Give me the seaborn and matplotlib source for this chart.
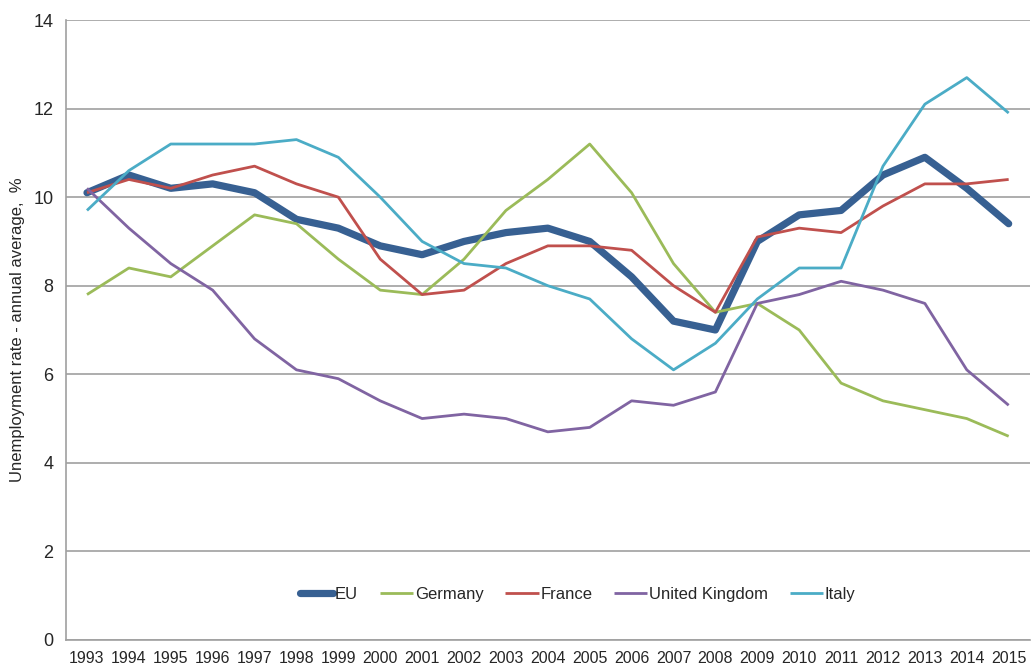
import numpy as np
import pandas as pd
import matplotlib
matplotlib.use('Agg')
import matplotlib.pyplot as plt
import seaborn as sns
from matplotlib.ticker import FixedLocator

years = [str(y) for y in range(1993, 2016)]

eu = [10.1, 10.5, 10.2, 10.3, 10.1, 9.5, 9.3, 8.9, 8.7, 9.0, 9.2, 9.3, 9.0, 8.2, 7.2, 7.0, 9.0, 9.6, 9.7, 10.5, 10.9, 10.2, 9.4]
germany = [7.8, 8.4, 8.2, 8.9, 9.6, 9.4, 8.6, 7.9, 7.8, 8.6, 9.7, 10.4, 11.2, 10.1, 8.5, 7.4, 7.6, 7.0, 5.8, 5.4, 5.2, 5.0, 4.6]
france = [10.1, 10.4, 10.2, 10.5, 10.7, 10.3, 10.0, 8.6, 7.8, 7.9, 8.5, 8.9, 8.9, 8.8, 8.0, 7.4, 9.1, 9.3, 9.2, 9.8, 10.3, 10.3, 10.4]
uk = [10.2, 9.3, 8.5, 7.9, 6.8, 6.1, 5.9, 5.4, 5.0, 5.1, 5.0, 4.7, 4.8, 5.4, 5.3, 5.6, 7.6, 7.8, 8.1, 7.9, 7.6, 6.1, 5.3]
italy = [9.7, 10.6, 11.2, 11.2, 11.2, 11.3, 10.9, 10.0, 9.0, 8.5, 8.4, 8.0, 7.7, 6.8, 6.1, 6.7, 7.7, 8.4, 8.4, 10.7, 12.1, 12.7, 11.9]

series = {'EU': eu, 'Germany': germany, 'France': france, 'United Kingdom': uk, 'Italy': italy}
colors = {'EU': '#376092', 'Germany': '#9BBB59', 'France': '#C0504D',
          'United Kingdom': '#8064A2', 'Italy': '#4BACC6'}
widths = {'EU': 5.2, 'Germany': 2.0, 'France': 2.0, 'United Kingdom': 2.0, 'Italy': 2.0}

sns.set_style('white')
plt.rcParams['font.family'] = ['Liberation Sans', 'DejaVu Sans']

fig = plt.figure(figsize=(10.35, 6.68), dpi=100)
ax = fig.add_axes([0.0638, 0.042, 0.931, 0.928])

for name, vals in series.items():
    df = pd.DataFrame({'year': years, 'value': vals})
    sns.lineplot(data=df, x='year', y='value', ax=ax, color=colors[name],
                 linewidth=widths[name], label=name, sort=False,
                 solid_capstyle='round' if name == 'EU' else 'butt')

ax.set_xlim(-0.5, len(years) - 0.5)
ax.set_ylim(0, 14)
ax.set_yticks(np.arange(0, 15, 2))
ax.yaxis.grid(True, color='#a0a0a0', linewidth=1.2)
ax.set_axisbelow(True)

ax.xaxis.set_minor_locator(FixedLocator(np.arange(-0.5, len(years), 1)))
ax.tick_params(axis='x', which='major', length=0, labelsize=11.5, pad=8)
ax.tick_params(axis='x', which='minor', length=5, color='#a0a0a0', direction='out')
ax.tick_params(axis='y', length=5, color='#a0a0a0', direction='out', labelsize=13, pad=4)

for s in ['top', 'right']:
    ax.spines[s].set_visible(False)
for s in ['left', 'bottom']:
    ax.spines[s].set_color('#a0a0a0')
    ax.spines[s].set_linewidth(1.2)

ax.set_xlabel('')
ax.set_ylabel('Unemployment rate - annual average,  %', fontsize=12, labelpad=6)

ax.legend(loc='center', bbox_to_anchor=(0.531, 0.073), ncol=5, frameon=False,
          fontsize=12, handlelength=2.0, handletextpad=0.1, columnspacing=1.3)

fig.savefig('out.png', dpi=100)
